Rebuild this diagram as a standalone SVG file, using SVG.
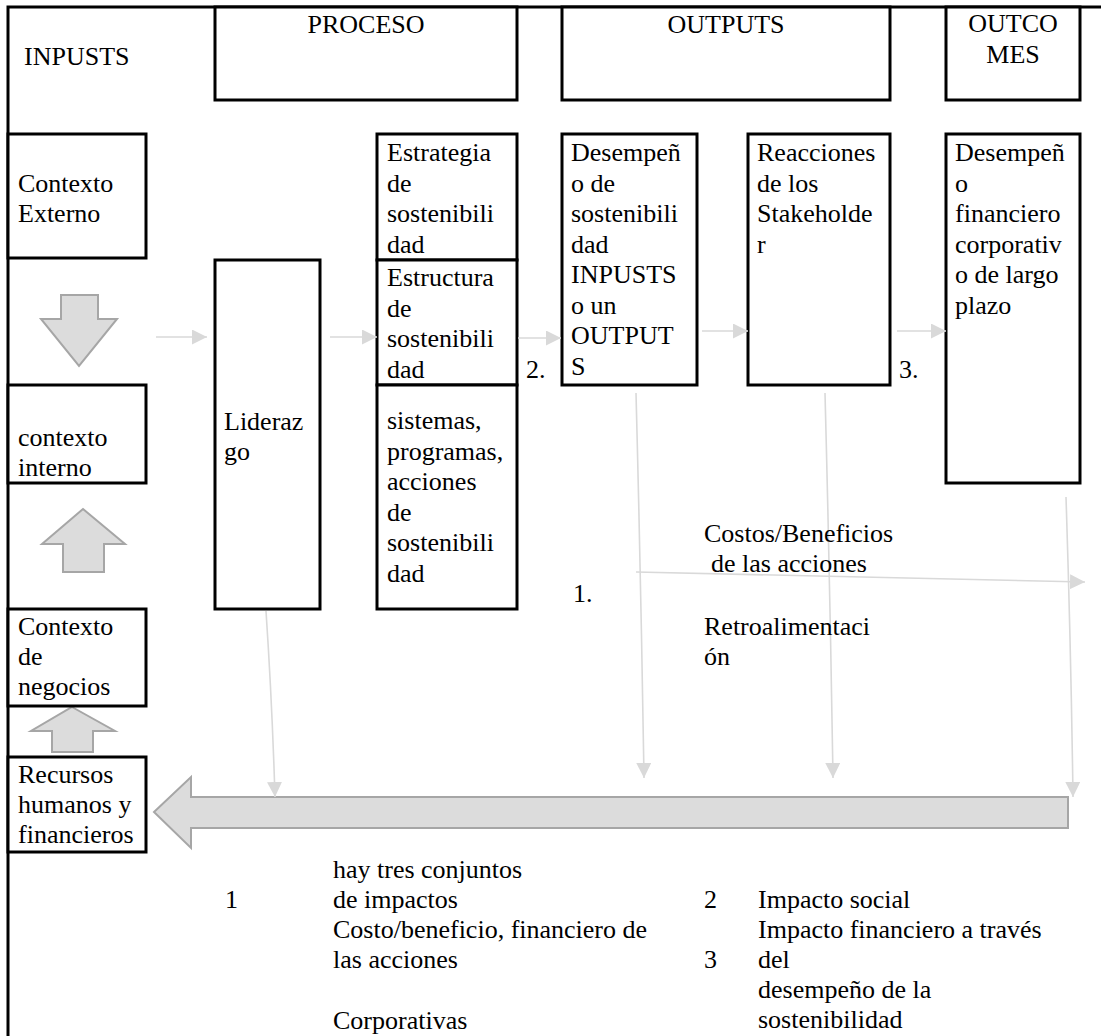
<svg xmlns="http://www.w3.org/2000/svg" width="1101" height="1036" viewBox="0 0 1101 1036">
<style>
.t{font-family:"Liberation Serif","Times New Roman",serif;font-size:26px;fill:#000}
.m{text-anchor:middle}
.box{fill:#fff;stroke:#000;stroke-width:3}
.blk{fill:#dcdcdc;stroke:#a6a6a6;stroke-width:2;stroke-linejoin:miter}
.c{fill:none;stroke:#d9d9d9;stroke-width:1.6}
</style>
<defs>
<marker id="ah" markerUnits="userSpaceOnUse" markerWidth="15" markerHeight="15" refX="15" refY="7.5" orient="auto">
<path d="M0,0 L15,7.5 L0,15 z" fill="#d9d9d9"/>
</marker>
</defs>
<rect width="1101" height="1036" fill="#fff"/>
<g id="frame"><path d="M8,1036 V7 H1101" fill="none" stroke="#000" stroke-width="3"/>
<text class="t" x="24" y="65">INPUSTS</text></g>
<g id="hdr-proceso"><rect class="box" x="215" y="7" width="302" height="93"/><text class="t m" x="366" y="33">PROCESO</text></g>
<g id="hdr-outputs"><rect class="box" x="562" y="7" width="328" height="93"/><text class="t m" x="726" y="33">OUTPUTS</text></g>
<g id="hdr-outcomes"><rect class="box" x="946" y="7" width="134" height="93"/><text class="t m" x="1013" y="32">OUTCO</text><text class="t m" x="1013" y="63">MES</text></g>
<g id="block-arrows">
<polygon class="blk" points="61,295 98,295 98,319 117,319 79,366 41,319 61,319"/>
<polygon class="blk" points="83,509 125,544 104,544 104,572 63,572 63,544 42,544"/>
<polygon class="blk" points="72,707 115,731 93,731 93,752 52,752 52,731 31,731"/>
<polygon class="blk" points="154,812 191,777 191,797 1068,797 1068,828 191,828 191,848"/>
</g>
<g id="n-ctx-ext"><rect class="box" x="8" y="134" width="138" height="124"/><text class="t" x="18" y="192">Contexto</text><text class="t" x="18" y="222">Externo</text></g>
<g id="n-estrategia"><rect class="box" x="377" y="134" width="140" height="126"/><text class="t" x="387" y="161">Estrategia</text><text class="t" x="387" y="191.5">de</text><text class="t" x="387" y="222">sostenibili</text><text class="t" x="387" y="252.5">dad</text></g>
<g id="n-estructura"><rect class="box" x="377" y="260" width="140" height="125"/><text class="t" x="387" y="286">Estructura</text><text class="t" x="387" y="316.5">de</text><text class="t" x="387" y="347">sostenibili</text><text class="t" x="387" y="377.5">dad</text></g>
<g id="n-sistemas"><rect class="box" x="377" y="385" width="140" height="224"/><text class="t" x="387" y="429">sistemas,</text><text class="t" x="387" y="459.5">programas,</text><text class="t" x="387" y="490">acciones</text><text class="t" x="387" y="520.5">de</text><text class="t" x="387" y="551">sostenibili</text><text class="t" x="387" y="581.5">dad</text></g>
<g id="n-liderazgo"><rect class="box" x="215" y="260" width="105" height="349"/><text class="t" x="224" y="430">Lideraz</text><text class="t" x="224" y="460">go</text></g>
<g id="n-desempeno"><rect class="box" x="562" y="134" width="135" height="251"/><text class="t" x="571" y="161">Desempeñ</text><text class="t" x="571" y="191.5">o de</text><text class="t" x="571" y="222">sostenibili</text><text class="t" x="571" y="252.5">dad</text><text class="t" x="571" y="283">INPUSTS</text><text class="t" x="571" y="313.5">o un</text><text class="t" x="571" y="344">OUTPUT</text><text class="t" x="571" y="374.5">S</text></g>
<g id="n-reacciones"><rect class="box" x="748" y="134" width="142" height="251"/><text class="t" x="757" y="161">Reacciones</text><text class="t" x="757" y="191.5">de los</text><text class="t" x="757" y="222">Stakeholde</text><text class="t" x="757" y="252.5">r</text></g>
<g id="n-desfin"><rect class="box" x="946" y="134" width="134" height="349"/><text class="t" x="955" y="161">Desempeñ</text><text class="t" x="955" y="191.5">o</text><text class="t" x="955" y="222">financiero</text><text class="t" x="955" y="252.5">corporativ</text><text class="t" x="955" y="283">o de largo</text><text class="t" x="955" y="313.5">plazo</text></g>
<g id="n-ctx-int"><rect class="box" x="8" y="385" width="138" height="98"/><text class="t" x="18" y="446">contexto</text><text class="t" x="18" y="476">interno</text></g>
<g id="n-ctx-neg"><rect class="box" x="8" y="609" width="138" height="97"/><text class="t" x="18" y="635">Contexto</text><text class="t" x="18" y="665">de</text><text class="t" x="18" y="695">negocios</text></g>
<g id="n-recursos"><rect class="box" x="8" y="757" width="138" height="95"/><text class="t" x="18" y="783">Recursos</text><text class="t" x="18" y="813">humanos y</text><text class="t" x="18" y="843">financieros</text></g>
<g id="connectors">
<path class="c" d="M156,337 H207" marker-end="url(#ah)"/>
<path class="c" d="M330,337 H377" marker-end="url(#ah)"/>
<path class="c" d="M518,338 H561" marker-end="url(#ah)"/>
<path class="c" d="M702,331 H748" marker-end="url(#ah)"/>
<path class="c" d="M897,331 H946" marker-end="url(#ah)"/>
<path class="c" d="M636,572 L1085,582" marker-end="url(#ah)"/>
<path class="c" d="M266,611 Q272,700 275,797" marker-end="url(#ah)"/>
<path class="c" d="M636,393 Q641,585 644,778" marker-end="url(#ah)"/>
<path class="c" d="M825,393 Q830,585 833,778" marker-end="url(#ah)"/>
<path class="c" d="M1066,497 Q1071,650 1073,797" marker-end="url(#ah)"/>
</g>
<g id="labels">
<text class="t" x="526" y="378">2.</text>
<text class="t" x="899" y="378">3.</text>
<text class="t" x="573" y="602">1.</text>
<text class="t" x="704" y="542">Costos/Beneficios</text>
<text class="t" x="711" y="572">de las acciones</text>
<text class="t" x="704" y="635">Retroalimentaci</text>
<text class="t" x="704" y="665">ón</text>
<text class="t" x="225" y="908">1</text>
<text class="t" x="333" y="878">hay tres conjuntos</text>
<text class="t" x="333" y="908">de impactos</text>
<text class="t" x="333" y="938">Costo/beneficio, financiero de</text>
<text class="t" x="333" y="968">las acciones</text>
<text class="t" x="333" y="1029">Corporativas</text>
<text class="t" x="704" y="908">2</text>
<text class="t" x="758" y="908">Impacto social</text>
<text class="t" x="758" y="938">Impacto financiero a través</text>
<text class="t" x="704" y="968">3</text>
<text class="t" x="758" y="968">del</text>
<text class="t" x="758" y="998">desempeño de la</text>
<text class="t" x="758" y="1028">sostenibilidad</text>
</g>
</svg>
